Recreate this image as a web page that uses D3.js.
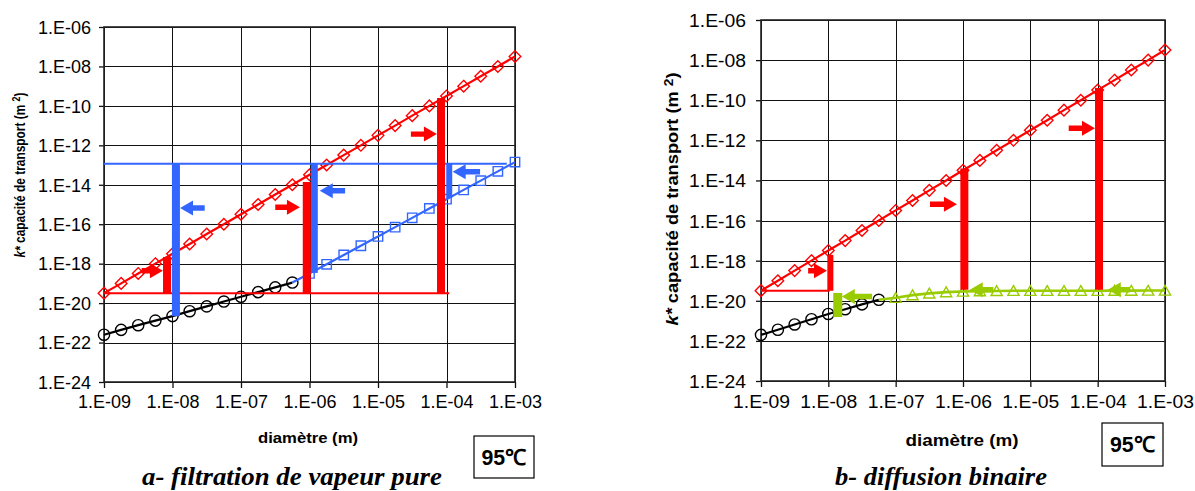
<!DOCTYPE html>
<html>
<head>
<meta charset="utf-8">
<script src="https://cdn.jsdelivr.net/npm/d3@7"></script>
<style>
  html, body { margin: 0; padding: 0; background: #fff; }
  svg { display: block; }
</style>
</head>
<body>
<svg id="chart" width="1195" height="491"></svg>
<script>
// ---------------- DATA ----------------
const diam = [1.00e-9, 1.78e-9, 3.16e-9, 5.62e-9, 1.00e-8, 1.78e-8, 3.16e-8, 5.62e-8,
              1.00e-7, 1.78e-7, 3.16e-7, 5.62e-7, 1.00e-6, 1.78e-6, 3.16e-6, 5.62e-6,
              1.00e-5, 1.78e-5, 3.16e-5, 5.62e-5, 1.00e-4, 1.78e-4, 3.16e-4, 5.62e-4, 1.00e-3];

const xTicks = [1e-9, 1e-8, 1e-7, 1e-6, 1e-5, 1e-4, 1e-3];
const xTickLabels = ["1.E-09", "1.E-08", "1.E-07", "1.E-06", "1.E-05", "1.E-04", "1.E-03"];
const yTicks = [1e-6, 1e-8, 1e-10, 1e-12, 1e-14, 1e-16, 1e-18, 1e-20, 1e-22, 1e-24];
const yTickLabels = ["1.E-06", "1.E-08", "1.E-10", "1.E-12", "1.E-14", "1.E-16", "1.E-18", "1.E-20", "1.E-22", "1.E-24"];

// red diamonds (both charts)
const kRed = [3.2e-20, 1.0e-19, 3.2e-19, 1.0e-18, 3.2e-18, 1.0e-17, 3.2e-17, 1.0e-16, 3.2e-16,
              1.0e-15, 3.2e-15, 1.0e-14, 3.2e-14, 1.0e-13, 3.2e-13, 1.0e-12, 3.2e-12, 1.0e-11,
              3.2e-11, 1.0e-10, 3.2e-10, 1.0e-9, 3.2e-9, 1.0e-8, 3.2e-8];
// chart a: black circles (first 12 diameters)
const kBlackA = [2.5e-22, 4.4e-22, 7.6e-22, 1.3e-21, 2.2e-21, 3.9e-21, 6.8e-21, 1.2e-20,
                 2.1e-20, 3.6e-20, 6.3e-20, 1.1e-19];
// chart a: blue squares (diameters 12..25, first point joins the black curve)
const kBlueA = [1.1e-19, 3.2e-19, 9.3e-19, 2.75e-18, 8.1e-18, 2.4e-17, 7.1e-17, 2.1e-16,
                6.3e-16, 1.86e-15, 5.5e-15, 1.62e-14, 4.8e-14, 1.41e-13];
// chart b: black circles (first 8 diameters)
const kBlackB = [2.0e-22, 3.6e-22, 6.6e-22, 1.2e-21, 2.2e-21, 3.8e-21, 6.6e-21, 1.12e-20];
// chart b: green triangles (diameters 8..25, first point joins the black curve)
const kGreenB = [1.12e-20, 1.41e-20, 1.91e-20, 2.34e-20, 2.69e-20, 2.88e-20, 3.02e-20, 3.09e-20,
                 3.16e-20, 3.16e-20, 3.16e-20, 3.16e-20, 3.16e-20, 3.16e-20, 3.2e-20, 3.2e-20,
                 3.24e-20, 3.24e-20];

// annotations (log10 coordinates)
const hlinesA = [{y: -12.94, xa: -9, xb: -3.12, c: "blue"}, {y: -19.5, xa: -9, xb: -3.96, c: "red"}];
const barsA = [
  {x: -7.95, ya: -12.94, yb: -20.66, c: "blue", w: 8},
  {x: -5.93, ya: -12.94, yb: -18.47, c: "blue", w: 7},
  {x: -3.96, ya: -12.94, yb: -14.67, c: "blue", w: 6},
  {x: -8.08, ya: -19.5, yb: -17.66, c: "red", w: 8},
  {x: -6.04, ya: -19.5, yb: -13.86, c: "red", w: 8},
  {x: -4.08, ya: -19.5, yb: -9.6, c: "red", w: 8}];
const arrowsA = [
  {xa: -8.45, xb: -8.14, y: -18.36, dir: "right", c: "red"},
  {xa: -6.50, xb: -6.14, y: -15.14, dir: "right", c: "red"},
  {xa: -4.52, xb: -4.14, y: -11.43, dir: "right", c: "red"},
  {xa: -7.89, xb: -7.53, y: -15.18, dir: "left", c: "blue"},
  {xa: -5.85, xb: -5.48, y: -14.30, dir: "left", c: "blue"},
  {xa: -3.91, xb: -3.51, y: -13.34, dir: "left", c: "blue"}];

const hlinesB = [{y: -19.5, xa: -9, xb: -7.98, c: "red"}];
const barsB = [
  {x: -7.97, ya: -19.5, yb: -17.71, c: "red", w: 6},
  {x: -5.98, ya: -19.45, yb: -13.4, c: "red", w: 8},
  {x: -3.98, ya: -19.45, yb: -9.39, c: "red", w: 8},
  {x: -7.86, ya: -19.61, yb: -20.81, c: "green", w: 9}];
const arrowsB = [
  {xa: -8.30, xb: -8.02, y: -18.5, dir: "right", c: "red"},
  {xa: -6.49, xb: -6.09, y: -15.19, dir: "right", c: "red"},
  {xa: -4.43, xb: -4.04, y: -11.4, dir: "right", c: "red"},
  {xa: -7.80, xb: -7.35, y: -19.79, dir: "left", c: "green"},
  {xa: -5.90, xb: -5.55, y: -19.45, dir: "left", c: "green"},
  {xa: -3.85, xb: -3.52, y: -19.45, dir: "left", c: "green"}];

const COLORS = {red: "#ff0000", blue: "#3366ff", black: "#000000", green: "#99cc00"};

// ---------------- DRAW ----------------
const svg = d3.select("#chart");
svg.append("rect").attr("width", 1195).attr("height", 491).attr("fill", "#fff");

function markerPath(type) {
  if (type === "diamond") return "M0,-5.8L5.8,0L0,5.8L-5.8,0Z";
  if (type === "square") return "M-4.7,-4.7H4.7V4.7H-4.7Z";
  if (type === "triangle") return "M0,-5.2L5.6,4.6H-5.6Z";
  return null;
}

function drawChart(cfg) {
  const g = svg.append("g");
  const x = d3.scaleLog().domain([1e-9, 1e-3]).range([cfg.x0, cfg.x1]);
  const y = d3.scaleLog().domain([1e-24, 1e-6]).range([cfg.y1, cfg.y0]);
  const P = v => Math.pow(10, v);

  // grid
  g.append("g").selectAll("line").data(yTicks).join("line")
    .attr("x1", cfg.x0).attr("x2", cfg.x1)
    .attr("y1", d => Math.round(y(d)) + 0.5).attr("y2", d => Math.round(y(d)) + 0.5)
    .attr("stroke", "#111").attr("stroke-width", 1);
  g.append("g").selectAll("line").data(xTicks).join("line")
    .attr("y1", cfg.y0).attr("y2", cfg.y1)
    .attr("x1", d => Math.round(x(d)) + 0.5).attr("x2", d => Math.round(x(d)) + 0.5)
    .attr("stroke", "#111").attr("stroke-width", 1);

  // axes
  const yAxis = d3.axisLeft(y).tickValues(yTicks).tickSize(5).tickFormat((d, i) => yTickLabels[i]);
  const xAxis = d3.axisBottom(x).tickValues(xTicks).tickSize(6).tickFormat((d, i) => xTickLabels[i]);
  const ya = g.append("g").attr("transform", `translate(${cfg.x0},0)`).call(yAxis);
  const xa = g.append("g").attr("transform", `translate(0,${cfg.y1})`).call(xAxis);
  [ya, xa].forEach(a => {
    a.select(".domain").remove();
    a.selectAll(".tick line").attr("stroke", "#111").attr("stroke-width", 1.3);
    a.selectAll(".tick text").attr("font-family", "Liberation Sans, Arial, sans-serif")
      .attr("font-size", cfg.tickFont).attr("fill", "#000")
      .attr("textLength", cfg.tickLen).attr("lengthAdjust", "spacingAndGlyphs");
  });
  ya.selectAll(".tick text").attr("x", -cfg.yLabGap).attr("dy", "0.36em");
  xa.selectAll(".tick text").attr("y", cfg.xLabGap).attr("dy", "0.36em");

  // frame
  g.append("rect").attr("x", cfg.x0).attr("y", cfg.y0)
    .attr("width", cfg.x1 - cfg.x0).attr("height", cfg.y1 - cfg.y0)
    .attr("fill", "none").attr("stroke", "#222").attr("stroke-width", 1.6);

  // series
  const line = d3.line().x(d => x(d[0])).y(d => y(d[1]));
  cfg.series.forEach(s => {
    const pts = s.x.map((xv, i) => [xv, s.y[i]]);
    g.append("path").attr("d", line(pts)).attr("fill", "none")
      .attr("stroke", COLORS[s.c]).attr("stroke-width", s.lw || 2.2);
    const mpts = s.skipFirst ? pts.slice(1) : pts;
    if (s.marker === "circle") {
      g.append("g").selectAll("circle").data(mpts).join("circle")
        .attr("cx", d => x(d[0])).attr("cy", d => y(d[1])).attr("r", 5.6)
        .attr("fill", "none").attr("stroke", COLORS[s.c]).attr("stroke-width", 1.4);
    } else {
      g.append("g").selectAll("path").data(mpts).join("path")
        .attr("d", markerPath(s.marker))
        .attr("transform", d => `translate(${x(d[0])},${y(d[1])})`)
        .attr("fill", "none").attr("stroke", COLORS[s.c]).attr("stroke-width", 1.4);
    }
  });

  // horizontal reference lines
  cfg.hlines.forEach(h => {
    g.append("line").attr("x1", x(P(h.xa))).attr("x2", x(P(h.xb)))
      .attr("y1", y(P(h.y))).attr("y2", y(P(h.y)))
      .attr("stroke", COLORS[h.c]).attr("stroke-width", 2);
  });
  // bars
  cfg.bars.forEach(b => {
    const yy1 = y(P(b.ya)), yy2 = y(P(b.yb));
    g.append("rect").attr("x", x(P(b.x)) - b.w / 2).attr("width", b.w)
      .attr("y", Math.min(yy1, yy2)).attr("height", Math.abs(yy1 - yy2))
      .attr("fill", COLORS[b.c]);
  });
  // arrows
  cfg.arrows.forEach(a => {
    const xa_ = x(P(a.xa)), xb_ = x(P(a.xb)), yy = y(P(a.y));
    const head = 13, hh = 7.5, t = 2.7;
    let d;
    if (a.dir === "right") {
      d = `M${xa_},${yy - t}H${xb_ - head}V${yy - hh}L${xb_},${yy}L${xb_ - head},${yy + hh}V${yy + t}H${xa_}Z`;
    } else {
      d = `M${xb_},${yy - t}H${xa_ + head}V${yy - hh}L${xa_},${yy}L${xa_ + head},${yy + hh}V${yy + t}H${xb_}Z`;
    }
    g.append("path").attr("d", d).attr("fill", COLORS[a.c]);
  });

  // y-axis title
  const yt = g.append("text")
    .attr("transform", `translate(${cfg.yTitleX},${cfg.yTitleY}) rotate(-90)`)
    .attr("text-anchor", "middle")
    .attr("font-family", "Liberation Sans, Arial, sans-serif")
    .attr("font-weight", "bold").attr("font-size", cfg.yTitleFont)
    .attr("textLength", cfg.yTitleLen).attr("lengthAdjust", "spacingAndGlyphs");
  yt.append("tspan").attr("font-style", "italic").text("k*");
  yt.append("tspan").text(" capacité de transport (m  ");
  yt.append("tspan").attr("dy", -5).attr("font-size", cfg.yTitleFont * 0.75).text("2");
  yt.append("tspan").attr("dy", 5).text(")");

  // x-axis title
  g.append("text").attr("x", cfg.xTitleX).attr("y", cfg.xTitleY)
    .attr("text-anchor", "middle")
    .attr("font-family", "Liberation Sans, Arial, sans-serif")
    .attr("font-weight", "bold").attr("font-size", cfg.xTitleFont)
    .attr("textLength", cfg.xTitleLen).attr("lengthAdjust", "spacingAndGlyphs")
    .text("diamètre (m)");

  // temperature box
  g.append("rect").attr("x", cfg.box[0]).attr("y", cfg.box[1])
    .attr("width", cfg.box[2]).attr("height", cfg.box[3])
    .attr("fill", "#fff").attr("stroke", "#000").attr("stroke-width", 1.2);
  g.append("text").attr("x", cfg.box[0] + cfg.box[2] / 2).attr("y", cfg.box[1] + cfg.box[3] / 2)
    .attr("dy", "0.36em").attr("text-anchor", "middle")
    .attr("font-family", "Liberation Sans, Arial, sans-serif")
    .attr("font-weight", "bold").attr("font-size", 22)
    .attr("textLength", 45).attr("lengthAdjust", "spacingAndGlyphs")
    .text("95℃");

  // caption
  g.append("text").attr("x", cfg.capX).attr("y", cfg.capY)
    .attr("text-anchor", "middle")
    .attr("font-family", "Liberation Serif, Times New Roman, serif")
    .attr("font-weight", "bold").attr("font-style", "italic").attr("font-size", 25)
    .attr("textLength", cfg.capLen).attr("lengthAdjust", "spacingAndGlyphs")
    .text(cfg.caption);
}

drawChart({
  x0: 104, x1: 515, y0: 27, y1: 382,
  tickFont: 17.5, tickLen: 53, yLabGap: 13, xLabGap: 20,
  series: [
    {x: diam, y: kRed, c: "red", marker: "diamond"},
    {x: diam.slice(0, 12), y: kBlackA, c: "black", marker: "circle"},
    {x: diam.slice(11), y: kBlueA, c: "blue", marker: "square", skipFirst: true}
  ],
  hlines: hlinesA, bars: barsA, arrows: arrowsA,
  yTitleX: 25, yTitleY: 175, yTitleFont: 15, yTitleLen: 165,
  xTitleX: 308, xTitleY: 443, xTitleFont: 15.5, xTitleLen: 100,
  box: [474, 436, 60, 42],
  capX: 292, capY: 485, capLen: 300, caption: "a- filtration de vapeur pure"
});

drawChart({
  x0: 761, x1: 1165, y0: 20, y1: 381,
  tickFont: 18, tickLen: 57, yLabGap: 15, xLabGap: 21,
  series: [
    {x: diam, y: kRed, c: "red", marker: "diamond"},
    {x: diam.slice(0, 8), y: kBlackB, c: "black", marker: "circle"},
    {x: diam.slice(7), y: kGreenB, c: "green", marker: "triangle", skipFirst: true, lw: 2.6}
  ],
  hlines: hlinesB, bars: barsB, arrows: arrowsB,
  yTitleX: 678, yTitleY: 199, yTitleFont: 16, yTitleLen: 253,
  xTitleX: 962, xTitleY: 446, xTitleFont: 16, xTitleLen: 113,
  box: [1102, 423, 61, 43],
  capX: 941, capY: 485, capLen: 212, caption: "b- diffusion binaire"
});
</script>
</body>
</html>
